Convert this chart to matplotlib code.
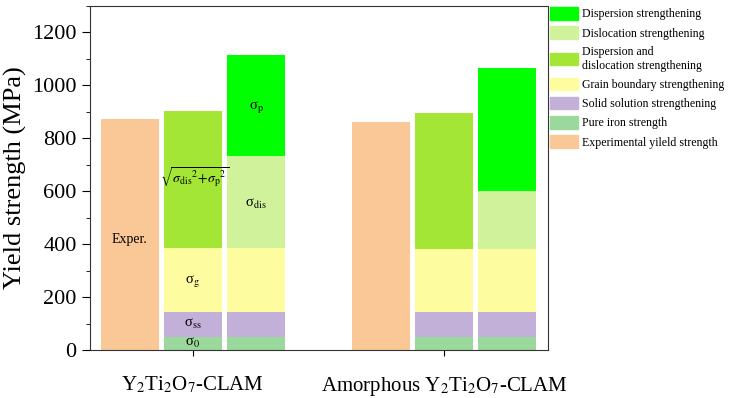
import numpy as np
import matplotlib
matplotlib.use("Agg")
import matplotlib.pyplot as plt
from matplotlib.patches import Patch
from matplotlib.ticker import MultipleLocator

plt.rcParams['font.family'] = ['Liberation Serif', 'DejaVu Serif']
plt.rcParams['mathtext.fontset'] = 'stix'

groups = ['Y$_2$Ti$_2$O$_7$-CLAM', 'Amorphous Y$_2$Ti$_2$O$_7$-CLAM']
exper = [873, 863]          # experimental yield strength
sigma0 = [50, 50]           # pure iron
sigma_ss = [95, 95]         # solid solution
sigma_g = [242, 238]        # grain boundary
sigma_dis = [346, 219]      # dislocation
sigma_p = [381, 463]        # dispersion
combined = [517, 512]       # sqrt(dis^2 + p^2)

c_p = '#00FF00'
c_dis = '#CFF29B'
c_comb = '#A3E635'
c_g = '#FDFD9F'
c_ss = '#C2B0D8'
c_0 = '#9BD89B'
c_exp = '#FAC896'

fig = plt.figure(figsize=(7.31, 3.98), dpi=100)
ax = fig.add_axes([0.123, 0.1206, 0.627, 0.8644])

x = np.arange(len(groups))
w = 0.231
off = 0.251
kw = dict(width=w, linewidth=0)

base2 = np.array(sigma0) + np.array(sigma_ss) + np.array(sigma_g)

ax.bar(x - off, exper, color=c_exp, **kw)

ax.bar(x, sigma0, color=c_0, **kw)
ax.bar(x, sigma_ss, bottom=sigma0, color=c_ss, **kw)
ax.bar(x, sigma_g, bottom=np.add(sigma0, sigma_ss), color=c_g, **kw)
ax.bar(x, combined, bottom=base2, color=c_comb, **kw)

ax.bar(x + off, sigma0, color=c_0, **kw)
ax.bar(x + off, sigma_ss, bottom=sigma0, color=c_ss, **kw)
ax.bar(x + off, sigma_g, bottom=np.add(sigma0, sigma_ss), color=c_g, **kw)
ax.bar(x + off, sigma_dis, bottom=base2, color=c_dis, **kw)
ax.bar(x + off, sigma_p, bottom=base2 + np.array(sigma_dis), color=c_p, **kw)

# labels in the first group
ax.text(-off, 418, 'Exper.', ha='center', va='center', fontsize=10)
ax.text(0, 27, 'σ$_0$', ha='center', va='center', fontsize=10.5)
ax.text(0, 97, 'σ$_\\mathrm{ss}$', ha='center', va='center', fontsize=10.5)
ax.text(0, 260, 'σ$_\\mathrm{g}$', ha='center', va='center', fontsize=10.5)
ax.text(-0.13, 655, r'$\sqrt{\sigma_{\mathrm{dis}}{}^{2}\!+\!\sigma_{\mathrm{p}}{}^{2}}$',
        ha='left', va='center', fontsize=10)
ax.text(off, 551, 'σ$_\\mathrm{dis}$', ha='center', va='center', fontsize=10.5)
ax.text(off, 919, 'σ$_\\mathrm{p}$', ha='center', va='center', fontsize=10.5)

ax.set_xlim(-0.41, 1.414)
ax.set_ylim(0, 1300)
ax.set_xticks(x)
ax.set_xticklabels(groups, fontsize=15)
ax.tick_params(axis='x', pad=14, length=4)
ax.yaxis.set_major_locator(MultipleLocator(200))
ax.yaxis.set_minor_locator(MultipleLocator(100))
ax.tick_params(axis='y', labelsize=16, length=6)
ax.tick_params(axis='y', which='minor', length=3)
ax.set_ylabel('Yield strength (MPa)', fontsize=19)
for s in ax.spines.values():
    s.set_color('#333333')

handles = [Patch(color=c_p), Patch(color=c_dis), Patch(color=c_comb),
           Patch(color=c_g), Patch(color=c_ss), Patch(color=c_0), Patch(color=c_exp)]
labels = ['Dispersion strengthening', 'Dislocation strengthening',
          'Dispersion and\ndislocation strengthening',
          'Grain boundary strengthening', 'Solid solution strengthening',
          'Pure iron strength', 'Experimental yileld strength']
fig.legend(handles, labels, loc='upper left', bbox_to_anchor=(0.742, 1.0),
           frameon=False, fontsize=8.6, handlelength=2.4, handleheight=1.25,
           labelspacing=0.5, handletextpad=0.3, borderaxespad=0.2)

fig.savefig('out.png', dpi=100)
